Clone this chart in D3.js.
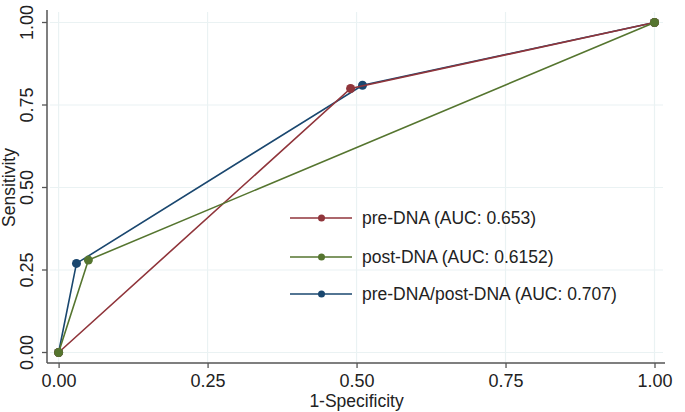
<!DOCTYPE html>
<html><head><meta charset="utf-8">
<script src="https://cdn.jsdelivr.net/npm/d3@7"></script>
<style>body{margin:0;background:#fff}svg{display:block}text{font-family:"Liberation Sans",Arial,sans-serif;fill:#222}</style>
</head><body><svg id="c" width="685" height="412"></svg>
<script>
const seriesNames = ["pre-DNA (AUC: 0.653)", "post-DNA (AUC: 0.6152)", "pre-DNA/post-DNA (AUC: 0.707)"];
const seriesColors = ["#90353b", "#55752f", "#1a476f"];
const preX = [0, 0.49, 1];
const preY = [0, 0.80, 1];
const postX = [0, 0.05, 1];
const postY = [0, 0.28, 1];
const combX = [0, 0.03, 0.51, 1];
const combY = [0, 0.27, 0.81, 1];
const tickVals = [0, 0.25, 0.5, 0.75, 1];
const tickLabels = ["0.00", "0.25", "0.50", "0.75", "1.00"];
const xTitle = "1-Specificity", yTitle = "Sensitivity";

const svg = d3.select("#c");
const x = d3.scaleLinear().domain([0,1]).range([58.6,654.5]);
const y = d3.scaleLinear().domain([0,1]).range([352.5,22.5]);
const axL = 47, axB = 363, axR = 665, axT = 10;

// grid
const g = svg.append("g");
g.selectAll(".hg").data(tickVals).join("line").attr("x1",axL+3).attr("x2",axR-2)
  .attr("y1",d=>y(d)).attr("y2",d=>y(d)).attr("stroke","#eaf2f3").attr("stroke-width",1.2);
g.selectAll(".vg").data(tickVals).join("line").attr("y1",axT+2).attr("y2",axB-1)
  .attr("x1",d=>x(d)).attr("x2",d=>x(d)).attr("stroke","#eaf2f3").attr("stroke-width",1.2);

// axes
const xAxis = d3.axisBottom(x).tickValues(tickVals).tickFormat((d,i)=>tickLabels[i]).tickSize(5).tickPadding(6);
const xa = svg.append("g").attr("transform",`translate(0,${axB})`).call(xAxis);
xa.select(".domain").remove();
xa.selectAll("line").attr("stroke","#555").attr("stroke-width",1.3);
xa.selectAll("text").attr("font-size",18).attr("font-family","Liberation Sans, Arial, sans-serif").attr("fill","#222");
const yAxis = d3.axisLeft(y).tickValues(tickVals).tickFormat((d,i)=>tickLabels[i]).tickSize(5).tickPadding(4);
const ya = svg.append("g").attr("transform",`translate(${axL},0)`).call(yAxis);
ya.select(".domain").remove();
ya.selectAll(".tick").attr("transform",null);
ya.selectAll(".tick line").attr("stroke","#555").attr("stroke-width",1.3)
  .attr("y1",d=>y(d)).attr("y2",d=>y(d)).attr("x2",-5);
ya.selectAll(".tick text").attr("font-size",18).attr("font-family","Liberation Sans, Arial, sans-serif").attr("fill","#222")
  .attr("text-anchor","middle").attr("x",0).attr("y",0).attr("dy","0.35em")
  .attr("transform",d=>`translate(-20,${y(d)}) rotate(-90)`);
svg.append("line").attr("x1",axL).attr("x2",axL).attr("y1",axT).attr("y2",axB).attr("stroke","#555").attr("stroke-width",1.5);
svg.append("line").attr("x1",axL).attr("x2",axR).attr("y1",axB).attr("y2",axB).attr("stroke","#555").attr("stroke-width",1.5);

svg.append("text").attr("x",x(0.5)).attr("y",407).attr("text-anchor","middle").attr("font-size",17.5).text(xTitle);
svg.append("text").attr("transform",`translate(15,${y(0.5)}) rotate(-90)`).attr("text-anchor","middle").attr("font-size",17.5).text(yTitle);

// series
const data = [
  {name: seriesNames[2], color: seriesColors[2], xs: combX, ys: combY},
  {name: seriesNames[0], color: seriesColors[0], xs: preX, ys: preY},
  {name: seriesNames[1], color: seriesColors[1], xs: postX, ys: postY}
];
const line = d3.line().x(d=>x(d[0])).y(d=>y(d[1]));
data.forEach(s=>{
  const pts = s.xs.map((v,i)=>[v,s.ys[i]]);
  svg.append("path").attr("d",line(pts)).attr("fill","none").attr("stroke",s.color).attr("stroke-width",1.6);
  svg.selectAll(null).data(pts).join("circle").attr("cx",d=>x(d[0])).attr("cy",d=>y(d[1])).attr("r",4.5).attr("fill",s.color);
});

// legend
const legY = [218, 257, 294];
[0,1,2].forEach(i=>{
  const lg = svg.append("g");
  lg.append("line").attr("x1",290).attr("x2",352).attr("y1",legY[i]).attr("y2",legY[i]).attr("stroke",seriesColors[i]).attr("stroke-width",1.6);
  lg.append("circle").attr("cx",321.5).attr("cy",legY[i]).attr("r",3.5).attr("fill",seriesColors[i]);
  lg.append("text").attr("x",362).attr("y",legY[i]).attr("dy","0.36em").attr("font-size",17.5).text(seriesNames[i]);
});
</script></body></html>
